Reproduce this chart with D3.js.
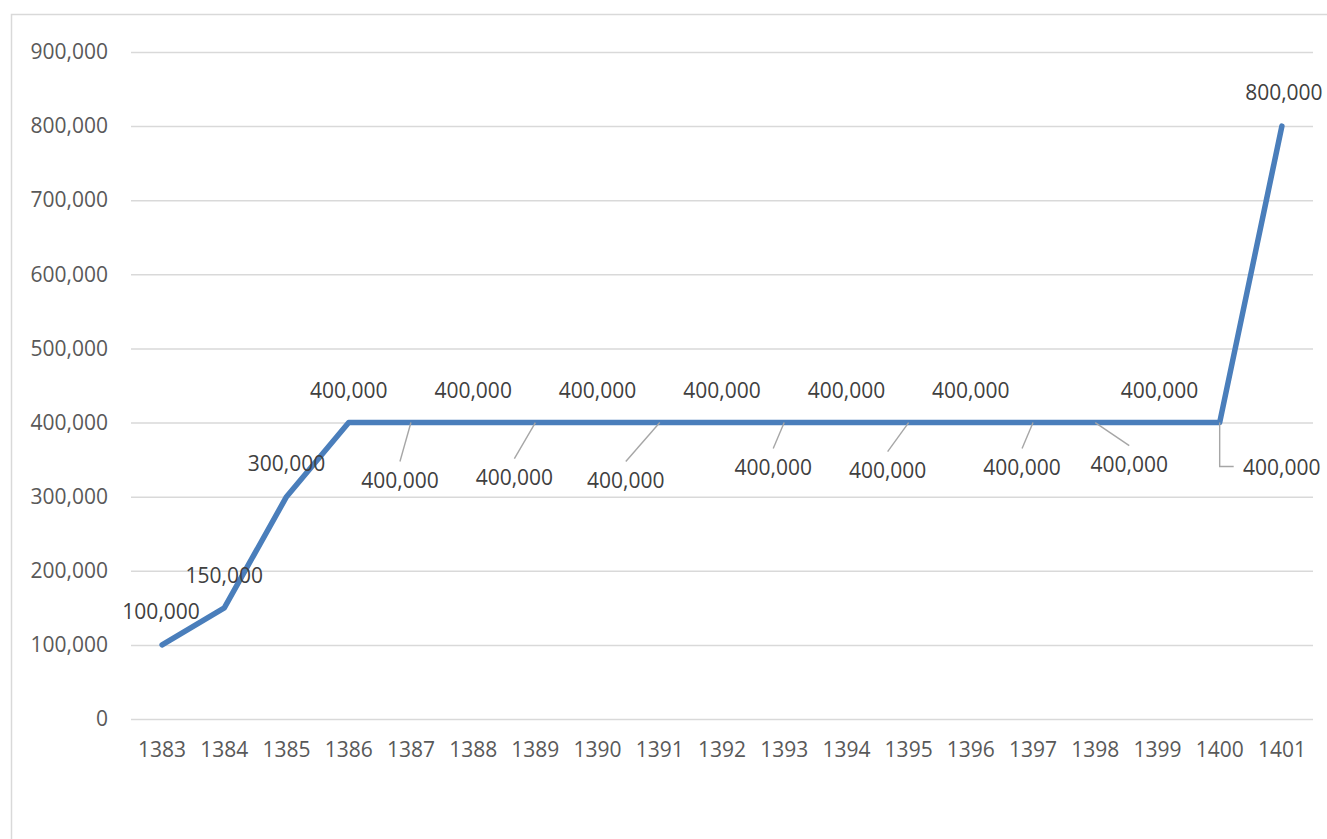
<!DOCTYPE html>
<html>
<head>
<meta charset="utf-8">
<script src="https://cdn.jsdelivr.net/npm/d3@7"></script>
<style>
  body { margin: 0; background: #fff; }
  text { font-family: "Open Sans", "Noto Sans", sans-serif; }
</style>
</head>
<body>
<svg id="chart" width="1327" height="839"></svg>
<script>
// Chart data
const years = ['1383', '1384', '1385', '1386', '1387', '1388', '1389', '1390', '1391', '1392',
  '1393', '1394', '1395', '1396', '1397', '1398', '1399', '1400', '1401'];
const values = [100000, 150000, 300000, 400000, 400000, 400000, 400000, 400000, 400000, 400000,
  400000, 400000, 400000, 400000, 400000, 400000, 400000, 400000, 800000];
const yTicks = [0, 100000, 200000, 300000, 400000, 500000, 600000, 700000, 800000, 900000];

// Where each data label sits relative to its point, and what leader it gets
const labelPlacement = [
  { dx: -1, dy: -33, leader: 'none' },
  { dx: 0, dy: -32, leader: 'none' },
  { dx: 0, dy: -33, leader: 'none' },
  { dx: 0, dy: -32, leader: 'none' },
  { dx: -11, dy: 58, leader: 'line' },
  { dx: 0, dy: -32, leader: 'none' },
  { dx: -21, dy: 55, leader: 'line' },
  { dx: 0, dy: -32, leader: 'none' },
  { dx: -34, dy: 58, leader: 'line' },
  { dx: 0, dy: -32, leader: 'none' },
  { dx: -11, dy: 45, leader: 'line' },
  { dx: 0, dy: -32, leader: 'none' },
  { dx: -21, dy: 48, leader: 'line' },
  { dx: 0, dy: -32, leader: 'none' },
  { dx: -11, dy: 45, leader: 'line' },
  { dx: 34, dy: 42, leader: 'line' },
  { dx: 2, dy: -32, leader: 'none' },
  { dx: 62, dy: 45, leader: 'elbow' },
  { dx: 2, dy: -33, leader: 'none' }
];

function renderChart() {
  const svg = d3.select('#chart');
  const plot = { left: 131, right: 1313, top: 52, bottom: 719 };
  const fmt = d3.format(',');
  const fontSize = '21px';

  // outer chart border
  svg.append('rect')
    .attr('x', 11.5)
    .attr('y', 14.5)
    .attr('width', 1340)
    .attr('height', 840)
    .attr('fill', 'none')
    .attr('stroke', '#d9d9d9')
    .attr('stroke-width', 1.5);

  const xScale = d3.scaleBand()
    .domain(years)
    .range([plot.left, plot.right]);
  const xc = d => xScale(d) + xScale.bandwidth() / 2;

  const yScale = d3.scaleLinear()
    .domain([0, 900000])
    .range([plot.bottom, plot.top]);

  // gridlines + y labels
  const yAxis = svg.append('g')
    .attr('transform', `translate(${plot.left},0)`)
    .call(d3.axisLeft(yScale)
      .tickValues(yTicks)
      .tickFormat(fmt)
      .tickSize(-(plot.right - plot.left))
      .tickPadding(23));
  yAxis.select('.domain').remove();
  yAxis.selectAll('line')
    .attr('stroke', '#d9d9d9')
    .attr('stroke-width', 1.5);
  yAxis.selectAll('text')
    .attr('fill', '#595959')
    .style('font-size', fontSize);

  // x labels
  const xAxis = svg.append('g')
    .attr('transform', `translate(0,${plot.bottom})`)
    .call(d3.axisBottom(xScale).tickSize(0).tickPadding(23));
  xAxis.select('.domain').remove();
  xAxis.selectAll('text')
    .attr('fill', '#595959')
    .style('font-size', fontSize);

  // series line
  const line = d3.line()
    .x((d, i) => xc(years[i]))
    .y(d => yScale(d));

  svg.append('path')
    .datum(values)
    .attr('d', line)
    .attr('fill', 'none')
    .attr('stroke', '#4a7ebb')
    .attr('stroke-width', 5.5)
    .attr('stroke-linejoin', 'round')
    .attr('stroke-linecap', 'round');

  // leader lines
  const leaders = svg.append('g')
    .attr('fill', 'none')
    .attr('stroke', '#a6a6a6')
    .attr('stroke-width', 1.4);

  values.forEach((v, i) => {
    const p = labelPlacement[i];
    const px = xc(years[i]);
    const py = yScale(v);
    if (p.leader === 'line') {
      leaders.append('line')
        .attr('x1', px).attr('y1', py)
        .attr('x2', px + p.dx).attr('y2', py + p.dy - 19);
    } else if (p.leader === 'elbow') {
      leaders.append('path')
        .attr('d', `M${px},${py}V${py + p.dy - 1}H${px + p.dx - 48}`);
    }
  });

  // data labels
  svg.append('g')
    .selectAll('text')
    .data(values)
    .enter()
    .append('text')
    .attr('x', (d, i) => xc(years[i]) + labelPlacement[i].dx)
    .attr('y', (d, i) => yScale(d) + labelPlacement[i].dy)
    .attr('dy', '0.35em')
    .attr('text-anchor', 'middle')
    .attr('fill', '#404040')
    .style('font-size', fontSize)
    .text(d => fmt(d));
}

renderChart();
</script>
</body>
</html>
